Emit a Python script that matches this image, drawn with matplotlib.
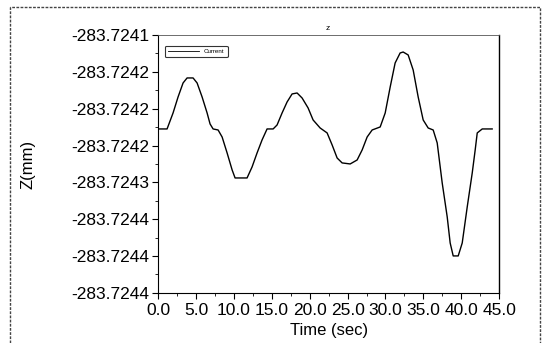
#!/usr/bin/env python3

import matplotlib
matplotlib.use("Agg")
from matplotlib import pyplot
from matplotlib.patches import Rectangle
from matplotlib.ticker import FixedLocator, FixedFormatter, MultipleLocator

pyplot.rcParams["font.family"] = ["Liberation Sans", "DejaVu Sans"]

# time samples (sec) and Z position (mm)
time_s = [0.0, 1.19, 1.98, 2.64, 3.30, 3.83, 4.62, 5.15, 5.81, 6.47, 6.86,
          7.26, 7.92, 8.45, 9.11, 9.77, 10.16, 11.74, 12.40, 13.06, 13.72,
          14.38, 15.18, 15.70, 16.36, 17.02, 17.68, 18.34, 19.00, 19.79,
          20.45, 21.38, 22.30, 22.96, 23.62, 24.28, 25.34, 26.26, 26.92,
          27.58, 28.24, 29.30, 29.96, 30.62, 31.27, 31.93, 32.33, 32.99,
          33.65, 34.31, 34.97, 35.63, 36.29, 36.82, 37.48, 38.14, 38.53,
          38.93, 39.59, 40.12, 40.78, 41.44, 41.83, 42.10, 42.76, 44.07]
z_mm = [-283.7242275, -283.7242275, -283.7242058, -283.7241841,
        -283.7241651, -283.7241583, -283.7241583, -283.7241651,
        -283.7241841, -283.7242058, -283.7242207, -283.7242275,
        -283.7242289, -283.7242384, -283.7242601, -283.7242831,
        -283.7242940, -283.7242940, -283.7242791, -283.7242601,
        -283.7242424, -283.7242275, -283.7242275, -283.7242221,
        -283.7242058, -283.7241909, -283.7241800, -283.7241787,
        -283.7241855, -283.7241990, -283.7242153, -283.7242262,
        -283.7242329, -283.7242492, -283.7242669, -283.7242736,
        -283.7242750, -283.7242696, -283.7242560, -283.7242384,
        -283.7242289, -283.7242248, -283.7242058, -283.7241705,
        -283.7241380, -283.7241244, -283.7241231, -283.7241271,
        -283.7241475, -283.7241841, -283.7242153, -283.7242262,
        -283.7242289, -283.7242465, -283.7243008, -283.7243469,
        -283.7243822, -283.7243998, -283.7243998, -283.7243822,
        -283.7243333, -283.7242872, -283.7242560, -283.7242329,
        -283.7242275, -283.7242275]

y_ticks = [-283.72445, -283.72440, -283.72435, -283.72430,
           -283.72425, -283.72420, -283.72415, -283.72410]
y_labels = ["-283.7244", "-283.7244", "-283.7244", "-283.7243",
            "-283.7242", "-283.7242", "-283.7242", "-283.7241"]
x_ticks = [0.0, 5.0, 10.0, 15.0, 20.0, 25.0, 30.0, 35.0, 40.0, 45.0]
x_labels = ["0.0", "5.0", "10.0", "15.0", "20.0", "25.0", "30.0", "35.0",
            "40.0", "45.0"]

fig = pyplot.figure(figsize=(5.45, 3.43), dpi=100)
ax = fig.add_axes([0.290, 0.146, 0.626, 0.752])

ax.plot(time_s, z_mm, color="black", linewidth=1.0, label="Current")

ax.set_xlim(x_ticks[0], x_ticks[-1])
ax.set_ylim(y_ticks[0], y_ticks[-1])
ax.xaxis.set_major_locator(FixedLocator(x_ticks))
ax.xaxis.set_major_formatter(FixedFormatter(x_labels))
ax.xaxis.set_minor_locator(MultipleLocator(2.5))
ax.yaxis.set_major_locator(FixedLocator(y_ticks))
ax.yaxis.set_major_formatter(FixedFormatter(y_labels))
ax.yaxis.set_minor_locator(MultipleLocator(0.000025))

ax.tick_params(which="major", direction="out", length=4, width=0.8,
               labelsize=12.5, pad=2)
ax.tick_params(which="minor", direction="out", length=2.5, width=0.6)
ax.tick_params(axis="x", pad=3)

ax.set_xlabel("Time (sec)", fontsize=12, labelpad=4)
ax.set_ylabel("Z(mm)", fontsize=12, labelpad=26)

ax.spines["top"].set_linewidth(0.6)
ax.spines["top"].set_color("#555555")
ax.spines["right"].set_linestyle((0, (3, 1)))
ax.spines["right"].set_linewidth(1.0)

leg = ax.legend(loc="upper left", fontsize=4.5, handlelength=5,
                borderpad=0.5, frameon=True, fancybox=True,
                bbox_to_anchor=(0.01, 0.97))
leg.get_frame().set_edgecolor("black")
leg.get_frame().set_linewidth(0.8)
for line in leg.get_lines():
    line.set_linewidth(0.6)

fig.text(328 / 545, 1 - 28 / 343, "z", fontsize=6, ha="center", va="center")

# dashed outer frame around the whole panel
fig.patches.append(Rectangle((10 / 545, -0.05), 530 / 545, 1.05 - 7 / 343,
                             transform=fig.transFigure, fill=False,
                             edgecolor="#444444", linewidth=1.0,
                             linestyle=(0, (2, 1))))

fig.savefig("out.png", dpi=100)
